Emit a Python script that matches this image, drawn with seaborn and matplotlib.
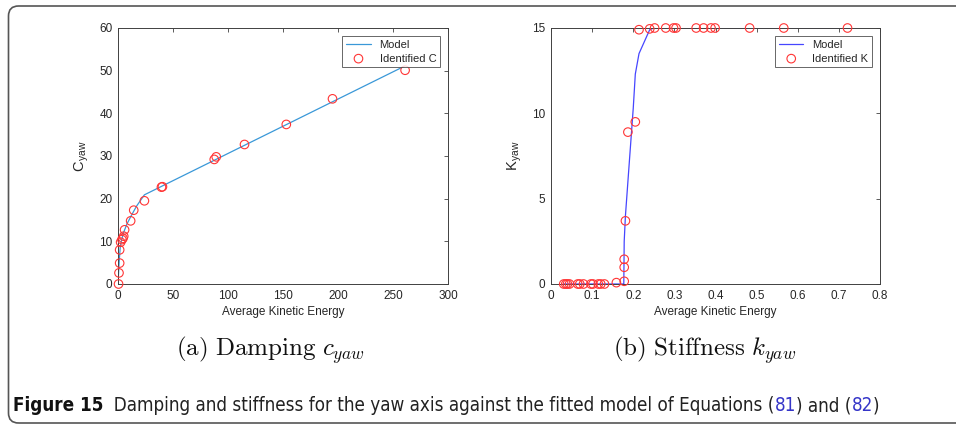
from __future__ import annotations

import matplotlib.pyplot as plt
import seaborn as sns
from matplotlib.patches import FancyBboxPatch
from matplotlib.text import Annotation
from matplotlib.transforms import IdentityTransform

# damping panel (a)
C_ENERGY = [0.5, 0.9, 1.5, 1.5, 2.4, 3.6, 4.5, 5.2, 6.0, 11.5, 14.3, 24.0,
            39.5, 40.4, 87.5, 89.3, 115.0, 153.0, 195.0, 261.0]
C_VALUES = [0.0, 2.6, 4.9, 8.0, 9.8, 10.4, 10.7, 11.2, 12.7, 14.8, 17.3, 19.5,
            22.7, 22.8, 29.2, 29.8, 32.7, 37.4, 43.4, 50.1]
C_MODEL_X = [0, 1, 2, 3, 5, 8, 12, 17, 24, 260]
C_MODEL_Y = [0.0, 5.0, 8.5, 10.0, 12.0, 14.0, 16.0, 18.3, 20.9, 51.0]

# stiffness panel (b)
K_ENERGY = [0.031, 0.036, 0.040, 0.045, 0.065, 0.070, 0.079, 0.097, 0.102, 0.115,
            0.121, 0.130, 0.159, 0.178, 0.178, 0.178, 0.181, 0.187, 0.205, 0.214,
            0.240, 0.252, 0.279, 0.298, 0.304, 0.353, 0.371, 0.389, 0.399, 0.483,
            0.566, 0.721]
K_VALUES = [0, 0, 0, 0, 0, 0, 0, 0, 0, 0,
            0, 0, 0.08, 0.16, 0.98, 1.45, 3.7, 8.9, 9.5, 14.9,
            14.95, 15, 15, 15, 15, 15, 15, 15, 15, 15,
            15, 15]
K_MODEL_X = [0.03, 0.177, 0.178, 0.181, 0.19, 0.20, 0.205, 0.214, 0.24, 0.25, 0.725]
K_MODEL_Y = [0.0, 0.0, 2.5, 4.0, 7.0, 10.3, 12.3, 13.5, 14.9, 15.0, 15.0]

C_XTICKS = [0, 50, 100, 150, 200, 250, 300]
C_YTICKS = [0, 10, 20, 30, 40, 50, 60]
K_XTICKS = [0, 0.1, 0.2, 0.3, 0.4, 0.5, 0.6, 0.7, 0.8]
K_YTICKS = [0, 5, 10, 15]

CAPTION = [
    ("Figure 15", "bold", "#111111"),
    ("  Damping and stiffness for the yaw axis against the fitted model of Equations (", "normal", "#222222"),
    ("81", "normal", "#3535C8"),
    (") and (", "normal", "#222222"),
    ("82", "normal", "#3535C8"),
    (")", "normal", "#222222"),
]

AX_COLOR = "#404040"
TEXT_COLOR = "#262626"
RED = "#FF3535"


def style_axes(ax, xticks, yticks, xlim, ylim):
    ax.set_xlim(*xlim)
    ax.set_ylim(*ylim)
    ax.set_xticks(xticks)
    ax.set_yticks(yticks)
    ax.set_xticklabels([f"{t:g}" for t in xticks])
    ax.set_yticklabels([f"{t:g}" for t in yticks])
    ax.tick_params(direction="in", length=3, width=0.6, color=AX_COLOR,
                   labelsize=8.5, labelcolor=TEXT_COLOR, top=True, right=True, pad=4)
    for spine in ax.spines.values():
        spine.set_visible(True)
        spine.set_color(AX_COLOR)
        spine.set_linewidth(0.7)
    ax.grid(False)
    ax.set_xlabel("Average Kinetic Energy", fontsize=8.5, color=TEXT_COLOR, labelpad=3)


def draw_panel(ax, mx, my, px, py, line_color, point_label):
    sns.lineplot(x=mx, y=my, ax=ax, color=line_color, linewidth=0.9,
                 sort=False, estimator=None, label="Model")
    sns.scatterplot(x=px, y=py, ax=ax, marker="o", s=38, facecolor="none",
                    edgecolor=RED, linewidth=0.8, label=point_label, zorder=3,
                    clip_on=False)
    leg = ax.legend(loc="upper right", fontsize=8, frameon=True, fancybox=False,
                    borderaxespad=0.7, handlelength=2.2, borderpad=0.35,
                    labelspacing=0.35, handletextpad=0.8)
    leg.get_frame().set_edgecolor(AX_COLOR)
    leg.get_frame().set_linewidth(0.7)
    for txt in leg.get_texts():
        txt.set_color(TEXT_COLOR)


def main() -> None:
    sns.set_theme(style="white")
    plt.rcParams["font.family"] = ["Liberation Sans", "DejaVu Sans"]
    plt.rcParams["mathtext.fontset"] = "cm"

    fig = plt.figure(figsize=(9.56, 4.28), dpi=100)
    fig.patch.set_facecolor("white")

    ax_c = fig.add_axes([118 / 956, 1 - 284 / 428, 330 / 956, 256 / 428])
    ax_k = fig.add_axes([551 / 956, 1 - 284 / 428, 329 / 956, 256 / 428])

    draw_panel(ax_c, C_MODEL_X, C_MODEL_Y, C_ENERGY, C_VALUES, "#3A98D8", "Identified C")
    style_axes(ax_c, C_XTICKS, C_YTICKS, (0, 300), (0, 60))
    ax_c.set_ylabel(r"C$_{\mathregular{yaw}}$", fontsize=10.5, color=TEXT_COLOR, labelpad=6)

    draw_panel(ax_k, K_MODEL_X, K_MODEL_Y, K_ENERGY, K_VALUES, "#4646FF", "Identified K")
    style_axes(ax_k, K_XTICKS, K_YTICKS, (0, 0.8), (0, 15))
    ax_k.set_ylabel(r"K$_{\mathregular{yaw}}$", fontsize=10.5, color=TEXT_COLOR, labelpad=6)

    # sub-captions
    fig.text(270 / 956, 1 - 350 / 428, r"$\mathrm{(a)\ Damping}\ c_{yaw}$",
             ha="center", va="center", fontsize=18, color="#111111")
    fig.text(705 / 956, 1 - 350 / 428, r"$\mathrm{(b)\ Stiffness}\ k_{yaw}$",
             ha="center", va="center", fontsize=18, color="#111111")

    # figure caption, chained piece by piece
    cap_kw = dict(fontsize=13.5, family="DejaVu Sans", stretch="condensed")
    text, weight, color = CAPTION[0]
    prev = fig.text(13 / 956, 1 - 415 / 428, text, ha="left", va="bottom",
                    weight=weight, color=color, **cap_kw)
    for text, weight, color in CAPTION[1:]:
        ann = Annotation(text, xy=(1, 0), xycoords=prev, ha="left", va="bottom",
                         weight=weight, color=color, **cap_kw)
        fig.add_artist(ann)
        prev = ann

    # rounded frame running past the right edge
    frame = FancyBboxPatch((8.5, 5), 1100, 417, boxstyle="round,pad=0,rounding_size=10",
                           transform=IdentityTransform(), facecolor="none",
                           edgecolor="#555555", linewidth=1.2)
    fig.patches.append(frame)

    fig.savefig("out.png", dpi=100)
    plt.close(fig)


if __name__ == "__main__":
    main()
